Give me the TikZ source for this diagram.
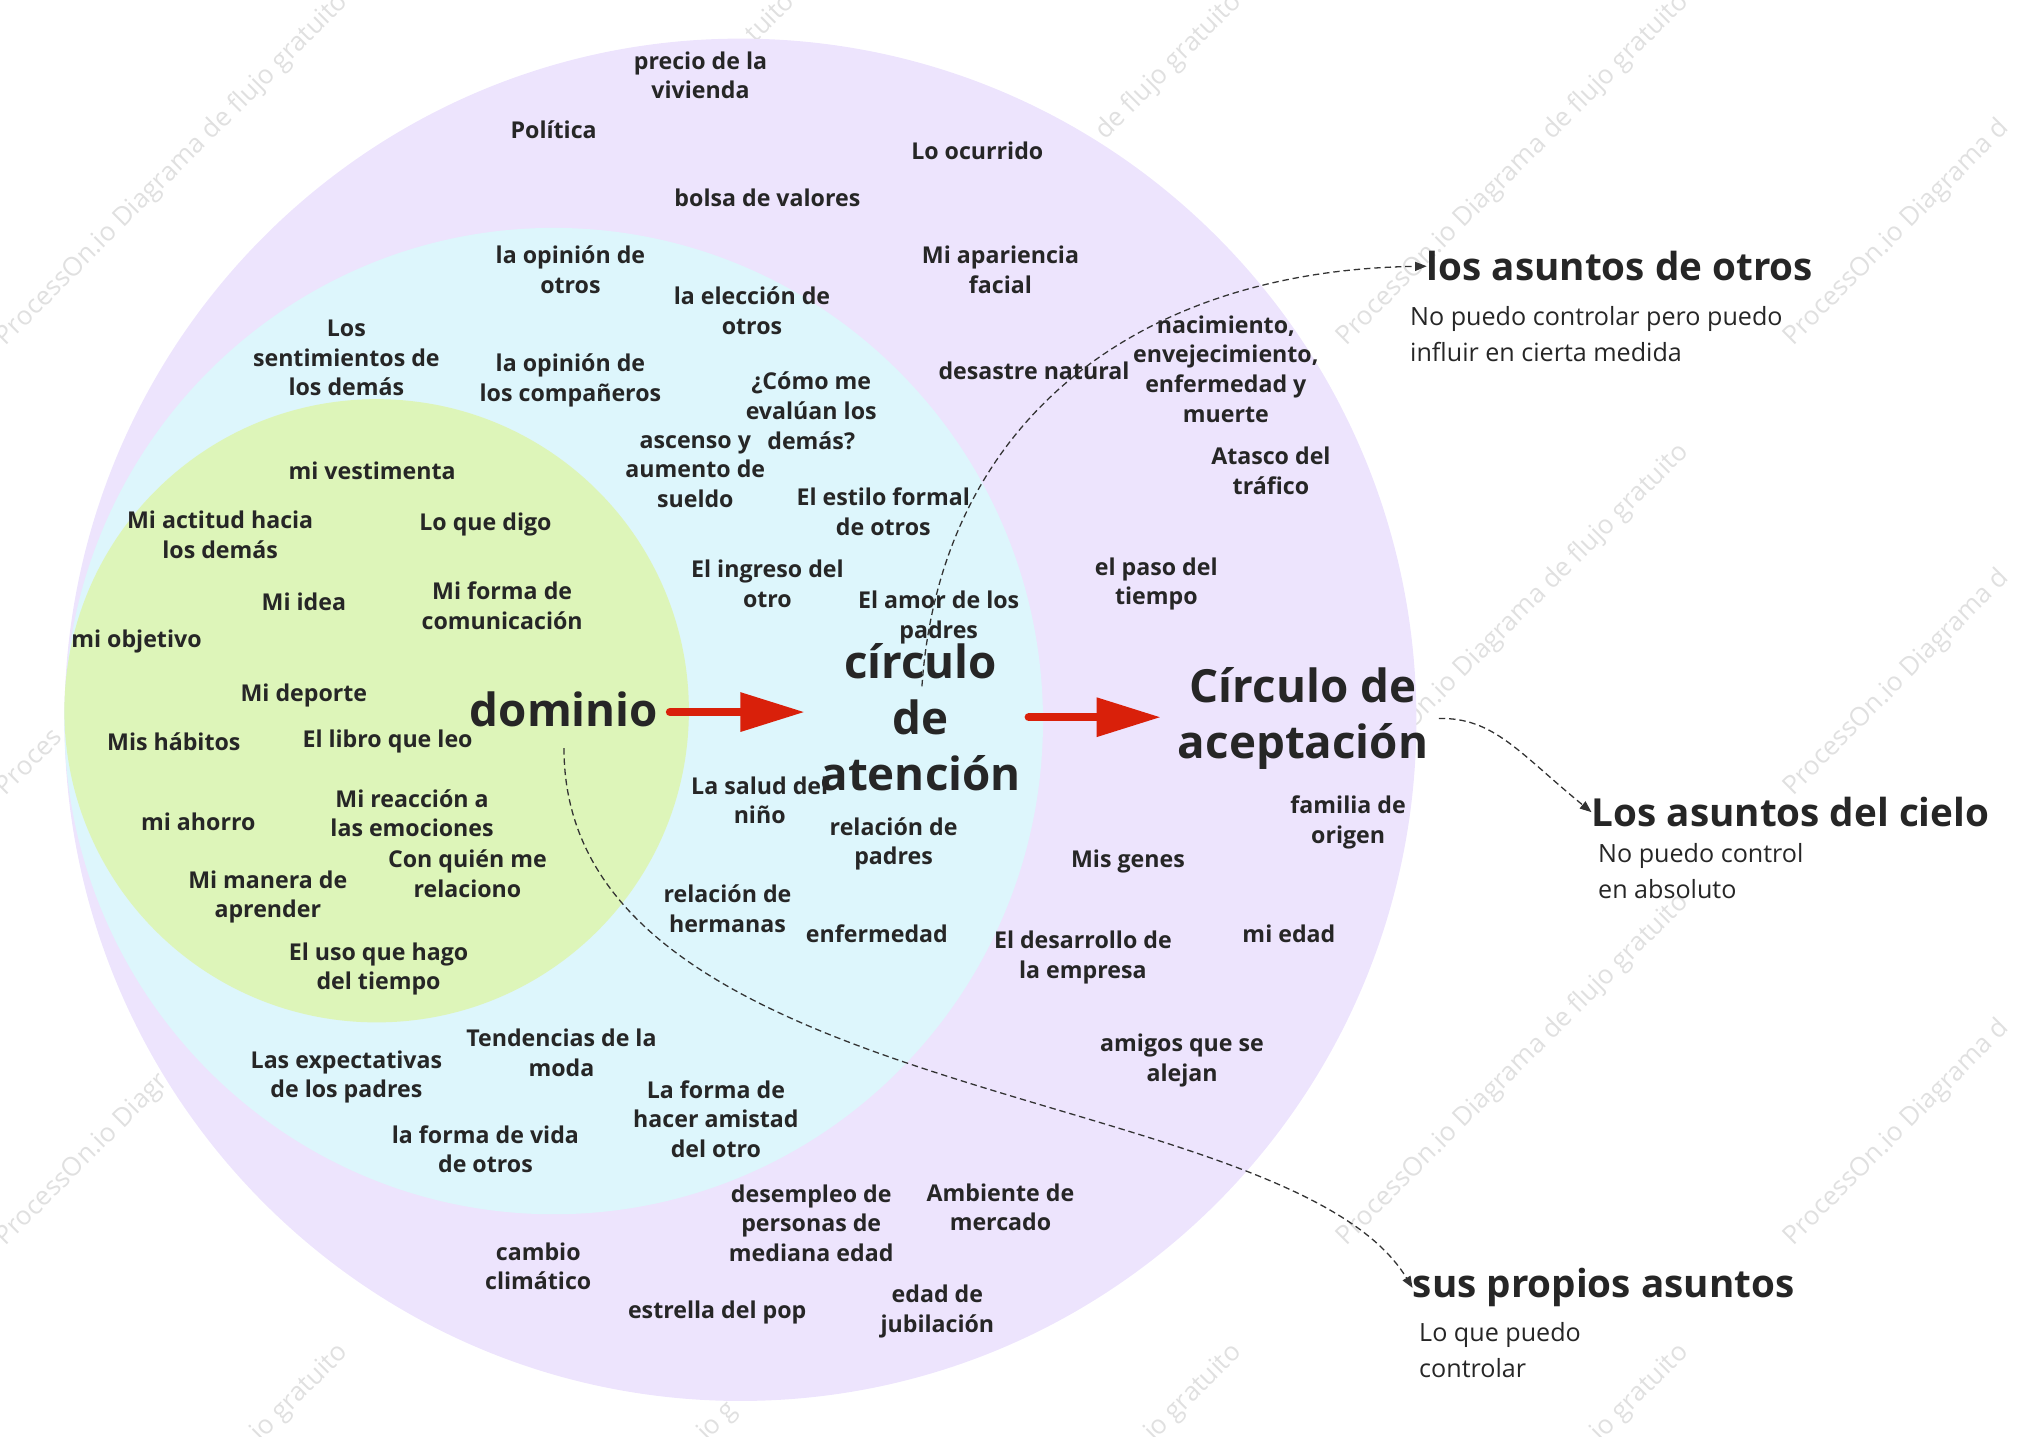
\documentclass[tikz,border=0pt]{standalone}
\usepackage{fontspec}
\setmainfont{Open Sans}
\usetikzlibrary{arrows.meta,calc}
\definecolor{purp}{RGB}{237,228,253}
\definecolor{cyanf}{RGB}{221,246,252}
\definecolor{greenf}{RGB}{221,245,185}
\definecolor{txt}{RGB}{38,38,38}
\definecolor{redarr}{RGB}{217,32,10}
\definecolor{wmc}{RGB}{224,224,224}
\definecolor{connc}{RGB}{51,51,51}
\tikzset{
 lbl/.style={align=center, inner sep=0pt, text=txt, font=\bfseries\fontsize{18}{23}\selectfont},
 big/.style={align=center, inner sep=0pt, text=txt, font=\bfseries\fontsize{35.5}{43.5}\selectfont},
 head/.style={anchor=base west, inner sep=0pt, text=txt, font=\bfseries\fontsize{30}{36}\selectfont},
 subtxt/.style={anchor=north west, align=left, inner sep=0pt, text=txt, font=\fontsize{19.5}{28}\selectfont},
 wmark/.style={rotate=45, text=wmc, inner sep=0pt, font=\fontsize{20.3}{22}\selectfont},
 redarrow/.style={draw=redarr, line width=6.5pt, line cap=round, -{Triangle[length=50pt,width=29pt]}},
 connector/.style={draw=connc, line width=1pt, dash pattern=on 5pt off 3pt, -{Triangle[length=9pt,width=7pt]}},
}
\newcommand{\wmfull}{ProcessOn.io Diagrama de flujo gratuito}
\newcommand{\wmright}{ProcessOn.io Diagrama d\phantom{e flujo gratuito}}
\newcommand{\wmbottom}{\phantom{ProcessOn.io Diagrama de flu}jo gratuito}
\begin{document}
\begin{tikzpicture}[x=1pt,y=-1pt]
\useasboundingbox (0,0) rectangle (1568,1116);
% watermark (only the parts that are not covered by the circles)
\begin{scope}
\clip (0,0) rectangle (1568,1116);
\node[wmark] (wm00) at (134,132) {\wmfull};
\node[wmark] (wm10) at (481,132) {\phantom{ProcessOn.io Diagrama de flujo gra}tuito};
\node[wmark] (wm20) at (828,132) {\phantom{ProcessOn.io Diagrama }de flujo gratuito};
\node[wmark] (wm30) at (1175,132) {\wmfull};
\node[wmark] (wm40) at (1522,132) {\wmright};
\node[wmark] (wm01) at (134,481.5) {Proces\phantom{sOn.io Diagrama de flujo gratuito}};
\node[wmark] (wm31) at (1175,481.5) {\phantom{Process}On.io Diagrama de flujo gratuito};
\node[wmark] (wm41) at (1522,481.5) {\wmright};
\node[wmark] (wm02) at (134,831) {ProcessOn.io Diagr\phantom{ama de flujo gratuito}};
\node[wmark] (wm32) at (1175,831) {\wmfull};
\node[wmark] (wm42) at (1522,831) {\wmright};
\node[wmark] (wm03) at (134,1180.5) {\wmbottom};
\node[wmark] (wm13) at (481,1180.5) {\phantom{ProcessOn.io Diagrama de flu}jo g\phantom{ratuito}};
\node[wmark] (wm23) at (828,1180.5) {\wmbottom};
\node[wmark] (wm33) at (1175,1180.5) {\wmbottom};
\end{scope}
% regions
\fill[purp] (575,559) ellipse [x radius=525pt, y radius=529pt];
\fill[cyanf] (430,560) ellipse [x radius=380pt, y radius=383pt];
\fill[greenf] (292.5,552) ellipse [x radius=242.5pt, y radius=242pt];

% big labels
\node[big] (dominio) at (438,551) {dominio};
\node[big] (atencion) at (715,557) {círculo\\de\\atención};
\node[big] (aceptacion) at (1012,558) {Círculo de\\aceptación};

% legend
\node[head] (otros) at (1108,218) {los asuntos de otros};
\node[subtxt] (otrosd) at (1095,238) {No puedo controlar pero puedo\\influir en cierta medida};
\node[head] (cielo) at (1236,642) {Los asuntos del cielo};
\node[subtxt] (cielod) at (1241,655) {No puedo control\\en absoluto};
\node[head] (sus) at (1097,1008) {sus propios asuntos};
\node[subtxt] (susd) at (1102,1027) {Lo que puedo\\controlar};

% outer (purple) items
\node[lbl] (p1) at (544,58.5) {precio de la\\vivienda};
\node[lbl] (p2) at (430,101) {Política};
\node[lbl] (p3) at (759,117) {Lo ocurrido};
\node[lbl] (p4) at (596,154) {bolsa de valores};
\node[lbl] (p5) at (777,209.5) {Mi apariencia\\facial};
\node[lbl] (p6) at (803,288) {desastre natural};
\node[lbl] (p7) at (952,286.5) {nacimiento,\\envejecimiento,\\enfermedad y\\muerte};
\node[lbl] (p8) at (987,365.5) {Atasco del\\tráfico};
\node[lbl] (p9) at (898,453.5) {el paso del\\tiempo};
\node[lbl] (p10) at (1047,638.5) {familia de\\origen};
\node[lbl] (p11) at (876,669) {Mis genes};
\node[lbl] (p12) at (841,743.5) {El desarrollo de\\la empresa};
\node[lbl] (p13) at (1001,725) {mi edad};
\node[lbl] (p14) at (918,823.5) {amigos que se\\alejan};
\node[lbl] (p15) at (630,950) {desempleo de\\personas de\\mediana edad};
\node[lbl] (p16) at (777,937.5) {Ambiente de\\mercado};
\node[lbl] (p17) at (418,983.5) {cambio\\climático};
\node[lbl] (p18) at (557,1019) {estrella del pop};
\node[lbl] (p19) at (728,1018.5) {edad de\\jubilación};

% middle (cyan) items
\node[lbl] (c1) at (443,209.5) {la opinión de\\otros};
\node[lbl] (c2) at (584,241.5) {la elección de\\otros};
\node[lbl] (c3) at (269,278) {Los\\sentimientos de\\los demás};
\node[lbl] (c4) at (443,295.5) {la opinión de\\los compañeros};
\node[lbl] (c5) at (630,319) {¿Cómo me\\evalúan los\\demás?};
\node[lbl] (c6) at (540,366) {ascenso y\\aumento de\\sueldo};
\node[lbl] (c7) at (686,397.5) {El estilo formal\\de otros};
\node[lbl] (c8) at (596,453.5) {El ingreso del\\otro};
\node[lbl] (c9) at (729,479.5) {El amor de los\\padres};
\node[lbl] (c10) at (590,621.5) {La salud del\\niño};
\node[lbl] (c11) at (694,655.5) {relación de\\padres};
\node[lbl] (c12) at (565,705.5) {relación de\\hermanas};
\node[lbl] (c13) at (681,725) {enfermedad};
\node[lbl] (c14) at (436,817.5) {Tendencias de la\\moda};
\node[lbl] (c15) at (269,836.5) {Las expectativas\\de los padres};
\node[lbl] (c16) at (556,869) {La forma de\\hacer amistad\\del otro};
\node[lbl] (c17) at (377,892.5) {la forma de vida\\de otros};

% inner (green) items
\node[lbl] (g1) at (289,366) {mi vestimenta};
\node[lbl] (g2) at (171,415.5) {Mi actitud hacia\\los demás};
\node[lbl] (g3) at (377,407) {Lo que digo};
\node[lbl] (g4) at (236,467) {Mi idea};
\node[lbl] (g5) at (390,470.5) {Mi forma de\\comunicación};
\node[lbl] (g6) at (106,498) {mi objetivo};
\node[lbl] (g7) at (236,540) {Mi deporte};
\node[lbl] (g8) at (135,576) {Mis hábitos};
\node[lbl] (g9) at (301,576) {El libro que leo};
\node[lbl] (g10) at (320,631.5) {Mi reacción a\\las emociones};
\node[lbl] (g11) at (154,638) {mi ahorro};
\node[lbl] (g12) at (363,678.5) {Con quién me\\relaciono};
\node[lbl] (g13) at (208,696.5) {Mi manera de\\aprender};
\node[lbl] (g14) at (294,752.5) {El uso que hago\\del tiempo};

% red arrows
\draw[redarrow] ($(dominio.east)+(9,2)$) -- ($(dominio.east -| atencion.west)+(-12,2)$);
\draw[redarrow] ($(atencion.east)+(6,0)$) -- ($(atencion.east -| aceptacion.west)+(-13,0)$);

% dashed connectors
\draw[connector] ($(atencion.center)+(1,-24)$) .. controls (730,330) and (880,210) .. (otros.west);
\draw[connector] ($(aceptacion.east)+(8,0)$) .. controls (1160,557) and (1180,585) .. (cielo.west);
\draw[connector] ($(dominio.center)+(0,30)$) .. controls (438,860) and (1000,840) .. (sus.west);
\end{tikzpicture}
\end{document}
